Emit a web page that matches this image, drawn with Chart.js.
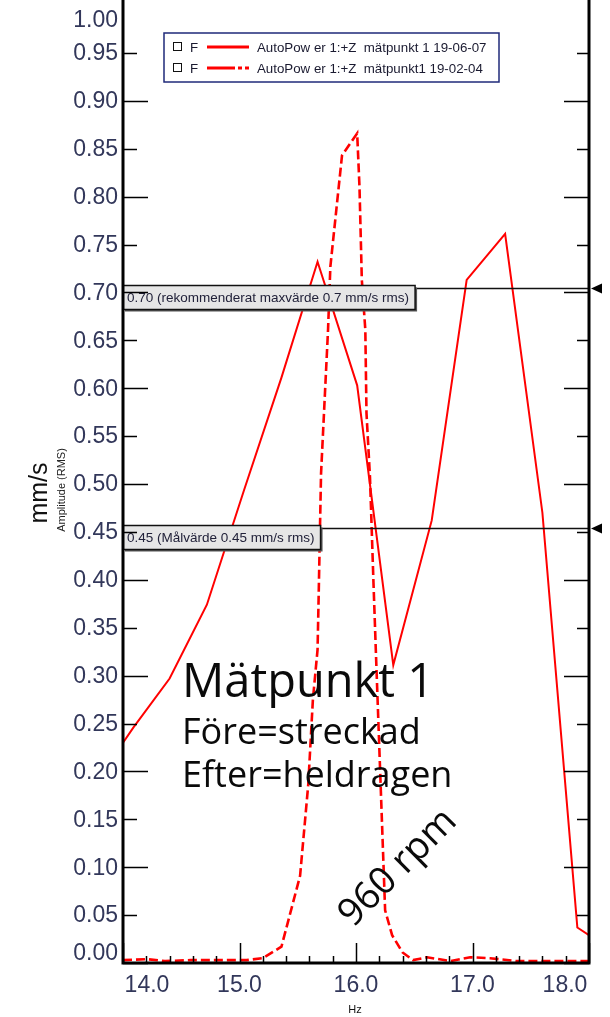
<!DOCTYPE html>
<html><head><meta charset="utf-8">
<script src="https://cdn.jsdelivr.net/npm/chart.js@4.4.1/dist/chart.umd.min.js"></script>
<style>html,body{margin:0;padding:0;background:#fff;}canvas{display:block;}</style>
</head><body>
<canvas id="c" width="610" height="1017"></canvas>
<script>
// ---- data ----
const seriesNames = ["AutoPow er 1:+Z  mätpunkt 1 19-06-07", "AutoPow er 1:+Z  mätpunkt1 19-02-04"];
const seriesTags = ["F", "F"];
const afterHz  = [14.00, 14.09, 14.40, 14.72, 15.04, 15.36, 15.67, 16.01, 16.32, 16.65, 16.95, 17.28, 17.60, 17.90, 18.00];
const afterVal = [0.230, 0.246, 0.297, 0.374, 0.494, 0.611, 0.732, 0.603, 0.311, 0.462, 0.713, 0.761, 0.470, 0.037, 0.029];
const beforeHz  = [14.00, 14.21, 14.36, 14.58, 15.06, 15.20, 15.36, 15.52, 15.59, 15.63, 15.67, 15.68, 15.70, 15.76, 15.78, 15.88, 16.01, 16.03, 16.05, 16.08, 16.09, 16.12, 16.15, 16.17, 16.25, 16.31, 16.40, 16.49, 16.61, 16.81, 16.98, 17.15, 17.38, 18.00];
const beforeVal = [0.003, 0.004, 0.002, 0.003, 0.003, 0.005, 0.017, 0.091, 0.186, 0.275, 0.327, 0.386, 0.511, 0.661, 0.727, 0.843, 0.866, 0.810, 0.713, 0.661, 0.574, 0.507, 0.397, 0.327, 0.055, 0.029, 0.011, 0.003, 0.006, 0.002, 0.006, 0.005, 0.002, 0.002];
const yTickValues = [0,0.05,0.10,0.15,0.20,0.25,0.30,0.35,0.40,0.45,0.50,0.55,0.60,0.65,0.70,0.75,0.80,0.85,0.90,0.95,1.00];
const yTickLabels = ["0.00","0.05","0.10","0.15","0.20","0.25","0.30","0.35","0.40","0.45","0.50","0.55","0.60","0.65","0.70","0.75","0.80","0.85","0.90","0.95","1.00"];
const xMajorTicks = [14, 15, 16, 17, 18];
const xTickLabels = ["14.0", "15.0", "16.0", "17.0", "18.0"];
const xMinorTicks = [14.2,14.4,14.6,14.8,15.2,15.4,15.6,15.8,16.2,16.4,16.6,16.8,17.2,17.4,17.6,17.8];
const refValues = [0.70, 0.45];
const refLabels = ["0.70 (rekommenderat maxvärde 0.7 mm/s rms)", "0.45 (Målvärde 0.45 mm/s rms)"];
const yTitle = "mm/s";
const ySubTitle = "Amplitude (RMS)";
const xTitle = "Hz";
const noteTitle = "Mätpunkt 1";
const noteLines = ["Före=streckad", "Efter=heldragen"];
const rpmText = "960 rpm";

const RED = "#ff0000";
const afterDash = [];
const beforeDash = [9, 4];

const overlay = {
  id: "overlay",
  afterDatasetsDraw(chart) {
    const ctx = chart.ctx;
    const xs = chart.scales.x, ys = chart.scales.y;
    const a = chart.chartArea;
    ctx.save();
    // reference lines + boxes
    refValues.forEach((v, i) => {
      const py = Math.round(ys.getPixelForValue(v)) - 3.5;
      ctx.strokeStyle = "#111"; ctx.lineWidth = 1.5;
      ctx.beginPath(); ctx.moveTo(a.left, py); ctx.lineTo(a.right, py); ctx.stroke();
      ctx.fillStyle = "#000";
      ctx.beginPath(); ctx.moveTo(a.right + 2, py); ctx.lineTo(a.right + 13, py - 5); ctx.lineTo(a.right + 13, py + 5); ctx.closePath(); ctx.fill();
      ctx.font = "13.5px 'Liberation Sans', Arial, sans-serif";
      const tw = ctx.measureText(refLabels[i]).width;
      const bx = a.left, by = py - 3, bw = tw + 10, bh = 24;
      ctx.fillStyle = "#555";
      ctx.fillRect(bx + 2, by + 2, bw, bh);
      ctx.fillStyle = "#e6e6e6";
      ctx.fillRect(bx, by, bw, bh);
      ctx.strokeStyle = "#111"; ctx.lineWidth = 1.5;
      ctx.strokeRect(bx, by, bw, bh);
      ctx.fillStyle = "#22223a"; ctx.textAlign = "left"; ctx.textBaseline = "middle";
      ctx.fillText(refLabels[i], bx + 4, by + bh / 2 + 1);
    });
    // frame
    ctx.strokeStyle = "#000"; ctx.lineWidth = 3;
    ctx.beginPath();
    ctx.moveTo(a.left, 0); ctx.lineTo(a.left, a.bottom); ctx.lineTo(a.right, a.bottom); ctx.lineTo(a.right, 0);
    ctx.stroke();
    // y ticks (inward, both sides)
    ctx.lineWidth = 1.5;
    yTickValues.forEach((v, i) => {
      if (v >= 1) return;
      const py = Math.round(ys.getPixelForValue(v)) + 0.5;
      const major = (i % 2 === 0);
      ctx.beginPath();
      ctx.moveTo(a.left, py); ctx.lineTo(a.left + (major ? 25 : 14), py);
      ctx.moveTo(a.right, py); ctx.lineTo(a.right - (major ? 25 : 12), py);
      ctx.stroke();
    });
    xMajorTicks.forEach(v => {
      const px = Math.round(xs.getPixelForValue(v)) + 0.5;
      ctx.beginPath(); ctx.moveTo(px, a.bottom); ctx.lineTo(px, a.bottom - 20); ctx.stroke();
    });
    xMinorTicks.forEach(v => {
      const px = Math.round(xs.getPixelForValue(v)) + 0.5;
      ctx.beginPath(); ctx.moveTo(px, a.bottom); ctx.lineTo(px, a.bottom - 7); ctx.stroke();
    });
    // tick labels
    ctx.fillStyle = "#32375a";
    ctx.font = "23px 'Liberation Sans', Arial, sans-serif";
    ctx.textAlign = "right"; ctx.textBaseline = "middle";
    yTickValues.forEach((v, i) => {
      let py = ys.getPixelForValue(v);
      py = Math.max(a.top + 15, Math.min(a.bottom - 10, py));
      ctx.fillText(yTickLabels[i], a.left - 5, py + 1);
    });
    ctx.textAlign = "center";
    xMajorTicks.forEach((v, i) => {
      let px = xs.getPixelForValue(v);
      px = Math.max(a.left + 24, Math.min(a.right - 24, px));
      ctx.fillText(xTickLabels[i], px, 986);
    });
    // axis titles
    ctx.fillStyle = "#111";
    ctx.font = "11px 'Liberation Sans', Arial, sans-serif";
    ctx.fillText(xTitle, 355, 1010);
    ctx.save();
    ctx.translate(40, 493); ctx.rotate(-Math.PI / 2);
    ctx.font = "25px 'Liberation Sans', Arial, sans-serif";
    ctx.fillText(yTitle, 0, 0);
    ctx.restore();
    ctx.save();
    ctx.translate(62, 490); ctx.rotate(-Math.PI / 2);
    ctx.font = "11px 'Liberation Sans', Arial, sans-serif";
    ctx.fillStyle = "#222";
    ctx.fillText(ySubTitle, 0, 0);
    ctx.restore();
    // legend
    const lx = 164, ly = 33, lw = 335, lh = 49;
    ctx.fillStyle = "#fff"; ctx.fillRect(lx, ly, lw, lh);
    ctx.strokeStyle = "#1f2a7a"; ctx.lineWidth = 1.5; ctx.strokeRect(lx, ly, lw, lh);
    const rowsY = [47, 68];
    const legendDash = [[], [28, 3, 4, 3]];
    rowsY.forEach((ry, i) => {
      ctx.strokeStyle = "#111"; ctx.lineWidth = 1; ctx.setLineDash([]);
      ctx.strokeRect(173.5, ry - 4.5, 8, 8);
      ctx.fillStyle = "#1a1a30"; ctx.font = "13.3px 'Liberation Sans', Arial, sans-serif";
      ctx.textAlign = "left"; ctx.textBaseline = "middle";
      ctx.fillText(seriesTags[i], 190, ry + 1);
      ctx.strokeStyle = RED; ctx.lineWidth = 3; ctx.setLineDash(legendDash[i]);
      ctx.beginPath(); ctx.moveTo(207, ry); ctx.lineTo(249, ry); ctx.stroke();
      ctx.setLineDash([]);
      ctx.fillText(seriesNames[i], 257, ry + 1);
    });
    // notes
    ctx.fillStyle = "#0a0a0a"; ctx.textAlign = "left"; ctx.textBaseline = "alphabetic";
    ctx.font = "47px 'Open Sans', sans-serif";
    ctx.fillText(noteTitle, 182, 697);
    ctx.font = "36px 'Open Sans', sans-serif";
    ctx.fillText(noteLines[0], 182, 744);
    ctx.fillText(noteLines[1], 182, 787);
    ctx.save();
    ctx.translate(398, 868); ctx.rotate(-Math.PI / 4);
    ctx.font = "38px 'Open Sans', sans-serif";
    ctx.textAlign = "center"; ctx.textBaseline = "middle";
    ctx.fillText(rpmText, 0, 0);
    ctx.restore();
    ctx.restore();
  }
};

new Chart(document.getElementById("c"), {
  type: "line",
  data: {
    datasets: [
      { label: seriesNames[0], data: afterHz.map((x, i) => ({ x, y: afterVal[i] })),
        borderColor: RED, borderWidth: 2, borderDash: afterDash, pointRadius: 0, tension: 0, fill: false },
      { label: seriesNames[1], data: beforeHz.map((x, i) => ({ x, y: beforeVal[i] })),
        borderColor: RED, borderWidth: 2.6, borderDash: beforeDash, pointRadius: 0, tension: 0, fill: false }
    ]
  },
  options: {
    responsive: false, animation: false, devicePixelRatio: 1,
    layout: { padding: { left: 123, right: 21, top: 5, bottom: 54 } },
    scales: {
      x: { type: "linear", min: 14, max: 18, display: false },
      y: { type: "linear", min: 0, max: 1, display: false }
    },
    plugins: { legend: { display: false }, tooltip: { enabled: false } }
  },
  plugins: [overlay]
});
</script>
</body></html>
